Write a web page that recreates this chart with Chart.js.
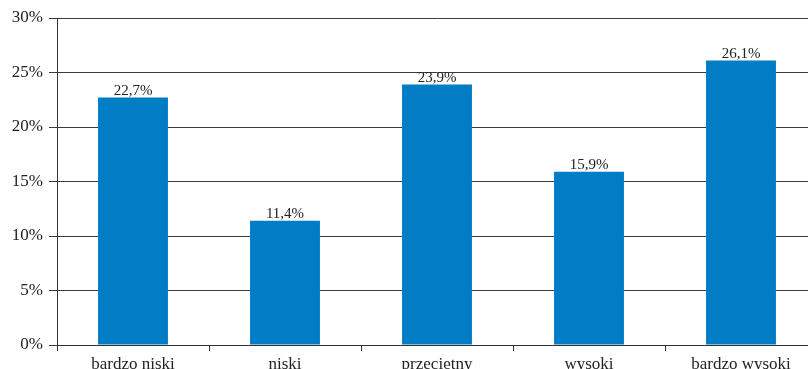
<!DOCTYPE html>
<html><head><meta charset="utf-8">
<script src="https://cdn.jsdelivr.net/npm/chart.js@4/dist/chart.umd.min.js"></script>
<style>
html,body{margin:0;padding:0;background:#fff;overflow:hidden;width:808px;height:369px}
#wrap{width:817px;height:369px;position:relative}
</style></head><body>
<div id="wrap"><canvas id="c" width="817" height="369"></canvas></div>
<script>
const categories = ['bardzo niski', 'niski', 'przeciętny', 'wysoki', 'bardzo wysoki'];
const values = [22.7, 11.4, 23.9, 15.9, 26.1];
const valueLabels = ['22,7%', '11,4%', '23,9%', '15,9%', '26,1%'];
const yTicks = [0, 5, 10, 15, 20, 25, 30];

const FONT = '"Liberation Serif", "Times New Roman", serif';

const labelPlugin = {
  id: 'valLabels',
  afterDatasetsDraw(chart) {
    const ctx = chart.ctx;
    const meta = chart.getDatasetMeta(0);
    ctx.save();
    ctx.font = '15px ' + FONT;
    ctx.fillStyle = '#222';
    ctx.textAlign = 'center';
    ctx.textBaseline = 'bottom';
    meta.data.forEach((bar, i) => {
      ctx.fillText(valueLabels[i], bar.x, bar.y + 1);
    });
    ctx.restore();
  }
};

new Chart(document.getElementById('c'), {
  type: 'bar',
  data: {
    labels: categories,
    datasets: [{
      data: values,
      backgroundColor: '#007DC5',
      borderWidth: 0,
      categoryPercentage: 0.92,
      barPercentage: 0.5
    }]
  },
  options: {
    responsive: false,
    animation: false,
    layout: { padding: { top: 18, right: 0, bottom: 0, left: 0 } },
    plugins: { legend: { display: false }, tooltip: { enabled: false } },
    scales: {
      x: {
        offset: true,
        grid: { offset: true, drawOnChartArea: false, drawTicks: true, tickLength: 6, color: '#333', lineWidth: 1 },
        border: { color: '#333', width: 1 },
        ticks: { color: '#222', font: { family: FONT, size: 17 }, padding: 3, maxRotation: 0, autoSkip: false },
        afterFit(s) { s.height = 24; }
      },
      y: {
        min: 0, max: 30,
        afterBuildTicks(s) { s.ticks = yTicks.map(v => ({ value: v })); },
        grid: { color: '#3c3c3c', lineWidth: 1, tickLength: 8, drawTicks: true },
        border: { color: '#333', width: 1 },
        ticks: { color: '#222', font: { family: FONT, size: 17 }, padding: 6, callback: v => v + '%' },
        afterFit(s) { s.width = 57; }
      }
    }
  },
  plugins: [labelPlugin]
});
</script>
</body></html>
